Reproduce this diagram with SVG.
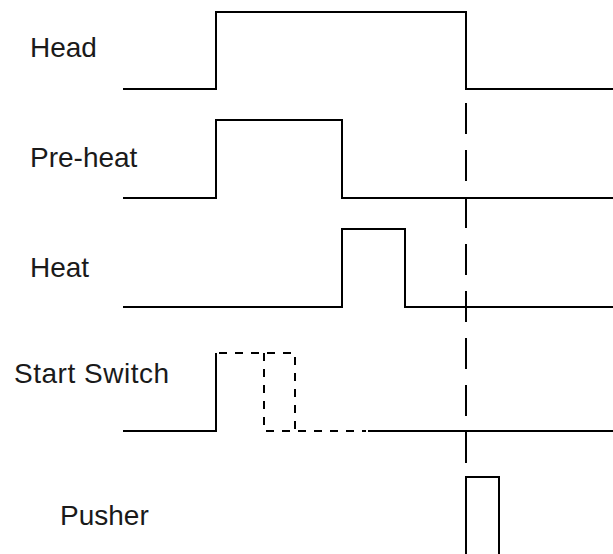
<svg xmlns="http://www.w3.org/2000/svg" width="613" height="554" viewBox="0 0 613 554">
<style>
.lbl{font-family:"Liberation Sans",Arial,sans-serif;font-size:28px;fill:#1a1a1a}
.sig{fill:none;stroke:#000;stroke-width:2;stroke-linejoin:miter}
.dsh{fill:none;stroke:#000;stroke-width:2;stroke-dasharray:8 8}
.mark{fill:none;stroke:#000;stroke-width:2;stroke-dasharray:31 16}
</style>
<rect width="613" height="554" fill="#fff"/>
<g id="head">
<text class="lbl" x="30" y="57">Head</text>
<polyline class="sig" points="123,89 216,89 216,12 466,12 466,89 613,89"/>
</g>
<g id="preheat">
<text class="lbl" x="30" y="167">Pre-heat</text>
<polyline class="sig" points="123,198 216,198 216,120 342,120 342,198 613,198"/>
</g>
<g id="heat">
<text class="lbl" x="30" y="277">Heat</text>
<polyline class="sig" points="123,307 342,307 342,229 405,229 405,307 613,307"/>
</g>
<g id="start-switch">
<text class="lbl" x="14" y="383" textLength="155" lengthAdjust="spacing">Start Switch</text>
<polyline class="sig" points="123,431 216,431 216,353"/>
<polyline class="dsh" points="219,353 295,353 295,431"/>
<polyline class="dsh" points="264,353 264,431 366,431"/>
<line class="sig" x1="368" y1="431" x2="613" y2="431"/>
</g>
<g id="pusher">
<text class="lbl" x="60" y="525">Pusher</text>
<polyline class="sig" points="466,556 466,477 499,477 499,556"/>
</g>
<g id="connectors">
<line class="mark" x1="466" y1="103" x2="466" y2="463"/>
</g>
</svg>
